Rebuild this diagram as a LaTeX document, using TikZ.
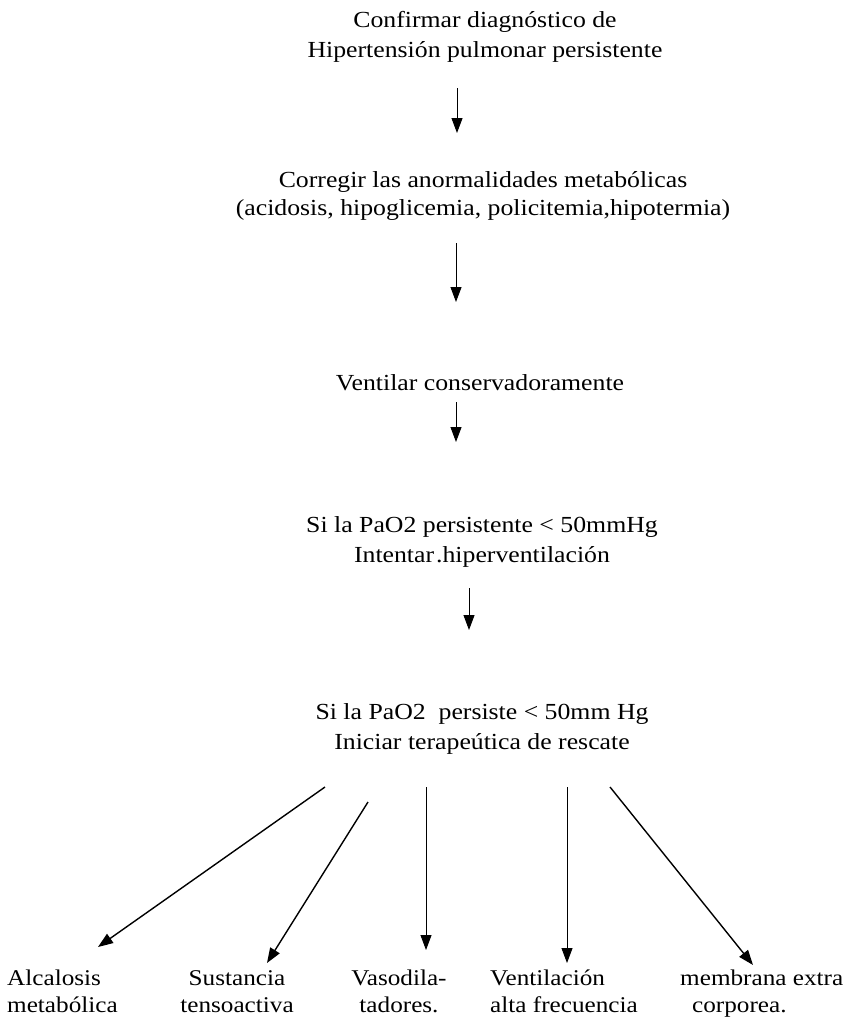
\documentclass[tikz,border=0pt]{standalone}
\usepackage{fontspec}
\setmainfont{Liberation Serif}[FakeStretch=1.12]
\usetikzlibrary{arrows.meta}
\begin{document}
\begin{tikzpicture}[x=1pt,y=-1pt,
  txt/.style={inner sep=0pt, align=center, anchor=base, font=\fontsize{23}{30}\selectfont},
  lbl/.style={inner sep=0pt, anchor=base, font=\fontsize{22.5}{27}\selectfont},
  arr/.style={line width=0.9pt, -{Triangle[width=11pt,length=15pt]}},
  barr/.style={line width=1.4pt, -{Triangle[width=11pt,length=15pt]}}]
\useasboundingbox[fill=white] (0,0) rectangle (852,1028);

% multi-line nodes: the base anchor is the baseline of the last line
\node[txt] (n1) at (485,57) {Confirmar diagnóstico de\\Hipertensión pulmonar persistente};
\node[txt] (n2) at (483,215) {Corregir las anormalidades metabólicas\\[-2pt](acidosis, hipoglicemia, policitemia,hipotermia)};
\node[txt] (n3) at (480,390) {Ventilar conservadoramente};
\node[txt] (n4) at (482,562) {Si la PaO2 persistente < 50mmHg\\Intentar\kern2pt.hiperventilación};
\node[txt] (n5) at (482,749) {Si la PaO2\ \ persiste < 50mm Hg\\Iniciar terapeútica de rescate};

\node[lbl, align=left, anchor=base west] (b1) at (7,1012) {Alcalosis\\metabólica};
\node[lbl, align=center] (b2) at (237,1012) {Sustancia\\tensoactiva};
\node[lbl, align=center] (b3) at (399,1012) {Vasodila-\\tadores.};
\node[lbl, align=left, anchor=base west] (b4) at (490,1012) {Ventilación\\alta frecuencia};
\node[lbl, align=left, anchor=base west] (b5) at (680,1012) {membrana extra\\\hspace{12pt}corporea.};

\coordinate (a1s) at (457,88);  \coordinate (a1e) at (457,133);
\coordinate (a2s) at (456,243); \coordinate (a2e) at (456,302);
\coordinate (a3s) at (456,402); \coordinate (a3e) at (456,442);
\coordinate (a4s) at (469,588); \coordinate (a4e) at (469,630);
\draw[arr] (a1s) -- (a1e);
\draw[arr] (a2s) -- (a2e);
\draw[arr] (a3s) -- (a3e);
\draw[arr] (a4s) -- (a4e);

\coordinate (ba) at (325,787); \coordinate (bae) at (98,947);
\coordinate (bb) at (368,802); \coordinate (bbe) at (267,963);
\coordinate (bc) at (426,787); \coordinate (bce) at (426,950);
\coordinate (bd) at (567,787); \coordinate (bde) at (567,963);
\coordinate (be) at (610,787); \coordinate (bee) at (753,965);
\draw[barr] (ba) -- (bae);
\draw[barr] (bb) -- (bbe);
\draw[arr] (bc) -- (bce);
\draw[arr] (bd) -- (bde);
\draw[barr] (be) -- (bee);
\end{tikzpicture}
\end{document}
